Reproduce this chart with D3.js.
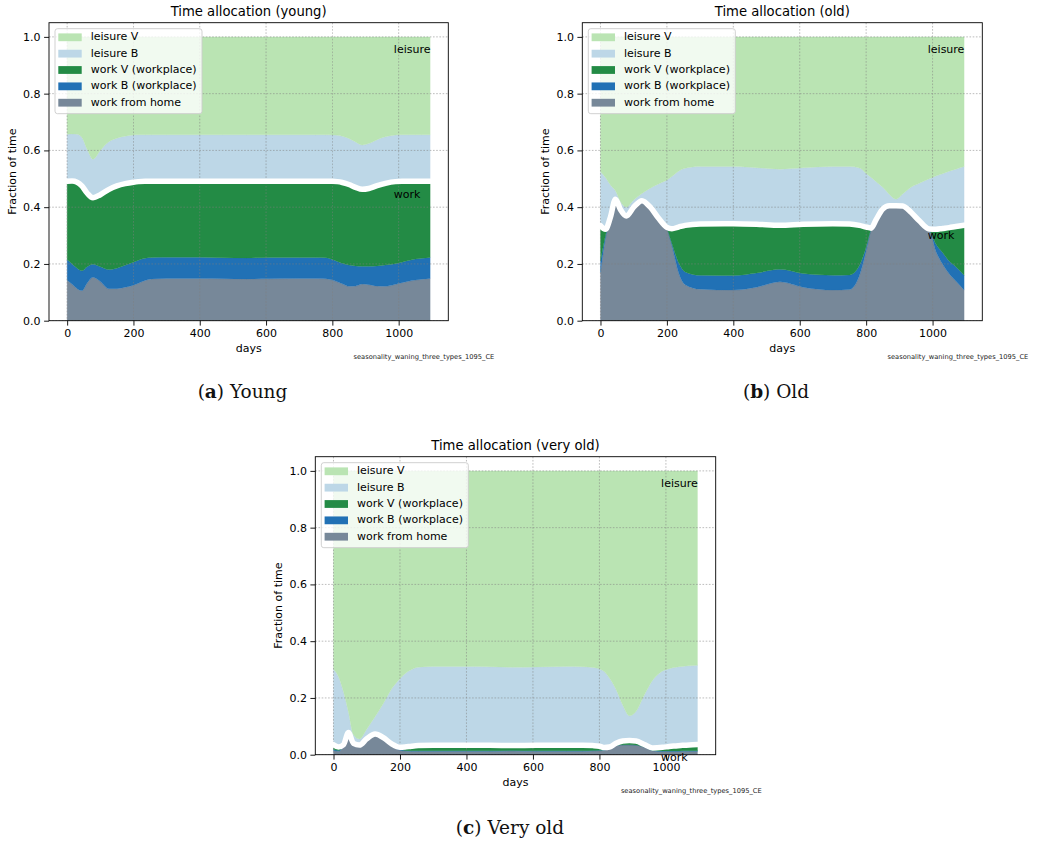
<!DOCTYPE html>
<html>
<head>
<meta charset="utf-8">
<script src="https://cdn.jsdelivr.net/npm/d3@7"></script>
<style>
  html, body { margin: 0; padding: 0; background: #ffffff; }
  svg { display: block; }
  text { font-family: "DejaVu Sans", sans-serif; }
  text.caption { font-family: "DejaVu Serif", serif; }
</style>
</head>
<body>
<svg id="chart" width="1038" height="843"></svg>
<script>
// ---------------- DATA ----------------
const days = [0, 15, 30, 45, 60, 78, 100, 125, 150, 175, 200, 215, 235, 255, 300, 400, 470, 540, 610, 700, 750, 780, 800, 815, 830, 850, 870, 890, 910, 935, 960, 990, 1010, 1030, 1050, 1070, 1095];

const seriesNames = ["work from home", "work B (workplace)", "work V (workplace)", "leisure B", "leisure V"];
const xTicks = [0, 200, 400, 600, 800, 1000];
const yTicks = [0.0, 0.2, 0.4, 0.6, 0.8, 1.0];
const titles = ["Time allocation (young)", "Time allocation (old)", "Time allocation (very old)"];
const captionLetters = ["a", "b", "c"];
const captionNames = ["Young", "Old", "Very old"];
const fileTag = "seasonality_waning_three_types_1095_CE";
const areaLabels = ["leisure", "work"];
const workLabelValues = [0.443, 0.297, -0.013];

// young
const youngWFH   = [.143,.128,.113,.106,.132,.153,.138,.113,.113,.118,.125,.132,.142,.147,.149,.149,.148,.147,.148,.149,.149,.148,.143,.137,.130,.121,.122,.129,.127,.122,.121,.128,.134,.139,.143,.146,.149];
const youngWorkB = [.073,.072,.072,.070,.058,.046,.052,.067,.072,.077,.081,.081,.078,.076,.075,.075,.074,.074,.075,.074,.074,.074,.073,.072,.072,.075,.071,.063,.065,.071,.075,.073,.072,.073,.074,.074,.074];
const youngWorkV = [.275,.292,.303,.298,.260,.234,.254,.282,.290,.288,.282,.277,.271,.268,.267,.267,.269,.270,.268,.268,.268,.269,.275,.281,.285,.284,.277,.271,.274,.283,.288,.289,.285,.279,.274,.271,.268];
const youngLeisB = [.166,.166,.169,.171,.155,.136,.156,.168,.168,.167,.166,.165,.164,.164,.164,.164,.164,.164,.164,.164,.164,.164,.163,.163,.163,.162,.160,.156,.158,.162,.164,.164,.164,.164,.164,.164,.164];
const youngLeisV = [.343,.342,.343,.355,.395,.431,.400,.370,.357,.350,.346,.345,.345,.345,.345,.345,.345,.345,.345,.345,.345,.345,.346,.347,.350,.358,.370,.381,.376,.362,.352,.346,.345,.345,.345,.345,.345];

// old
const oldWFH   = [.170,.290,.365,.428,.392,.369,.400,.423,.400,.361,.326,.265,.170,.127,.111,.108,.118,.137,.118,.108,.110,.160,.245,.324,.356,.394,.405,.405,.404,.382,.352,.323,.245,.200,.165,.140,.108];
const oldWorkB = [.040,.010,0,0,0,0,0,0,0,0,.001,.007,.035,.045,.049,.051,.050,.044,.048,.052,.051,.035,.015,0,0,0,0,0,0,0,0,0,.025,.040,.045,.050,.052];
const oldWorkV = [.125,.022,0,0,0,0,0,0,0,0,.002,.052,.125,.164,.181,.183,.172,.155,.174,.182,.180,.141,.070,.002,0,0,0,0,0,0,0,0,.052,.085,.118,.142,.176];
const oldLeisB = [.190,.183,.113,.030,.028,.031,.025,.025,.067,.121,.167,.184,.197,.201,.202,.201,.199,.198,.199,.201,.202,.202,.189,.179,.134,.076,.040,.023,.042,.088,.132,.177,.188,.193,.199,.202,.207];
const oldLeisV = [.475,.495,.522,.542,.580,.600,.575,.552,.533,.518,.504,.492,.473,.463,.457,.457,.461,.466,.461,.457,.457,.462,.481,.495,.510,.530,.555,.572,.554,.530,.516,.500,.490,.482,.473,.466,.457];

// very old
const veryOldWFH   = [.015,.012,.030,.068,.035,.030,.050,.066,.052,.030,.016,.013,.012,.012,.012,.012,.012,.013,.012,.012,.012,.013,.014,.016,.022,.032,.035,.035,.034,.027,.014,.011,.011,.011,.012,.012,.012];
const veryOldWorkB = [.003,.003,0,0,0,0,0,0,0,.001,.002,.002,.002,.002,.002,.002,.002,.002,.002,.002,.002,.002,.002,.001,0,0,0,0,0,0,.001,.002,.002,.002,.002,.002,.002];
const veryOldWorkV = [.017,.012,.005,.010,.005,.004,.006,.007,.008,.007,.008,.012,.016,.018,.019,.019,.019,.017,.019,.019,.019,.017,.014,.008,.005,.008,.013,.015,.014,.009,.009,.013,.016,.018,.019,.020,.022];
const veryOldLeisB = [.266,.248,.187,.072,.030,.021,.034,.061,.120,.194,.242,.258,.270,.276,.278,.278,.277,.276,.276,.278,.277,.275,.272,.267,.243,.190,.127,.087,.104,.174,.238,.269,.274,.277,.278,.279,.279];
const veryOldLeisV = [.699,.725,.778,.850,.930,.945,.910,.866,.820,.768,.732,.715,.700,.692,.689,.689,.690,.692,.691,.689,.690,.693,.698,.708,.730,.770,.825,.863,.848,.790,.738,.705,.697,.692,.689,.687,.685];

// ---------------- STYLE / LAYOUT ----------------
const colors = {
  "work from home": "#778899",
  "work B (workplace)": "#2171b5",
  "work V (workplace)": "#238b45",
  "leisure B": "#bdd7e7",
  "leisure V": "#bae4b3"
};

const panelData = [
  [youngWFH, youngWorkB, youngWorkV, youngLeisB, youngLeisV],
  [oldWFH, oldWorkB, oldWorkV, oldLeisB, oldLeisV],
  [veryOldWFH, veryOldWorkB, veryOldWorkV, veryOldLeisB, veryOldLeisV]
];
const panelBoxes = [
  { left: 49, top: 22.7, width: 399.3, height: 298, capX: 242.5, capY: 398 },
  { left: 582.3, top: 22.7, width: 400, height: 298, capX: 776, capY: 398 },
  { left: 315.3, top: 456.7, width: 400.4, height: 298, capX: 510, capY: 834 }
];

const svg = d3.select("#chart");
const FS = 11;

panelBoxes.forEach((box, pi) => {
  const rows = days.map((d, i) => {
    const r = { day: d };
    seriesNames.forEach((s, k) => { r[s] = panelData[pi][k][i]; });
    return r;
  });
  const stacked = d3.stack().keys(seriesNames)(rows);

  const x = d3.scaleLinear().domain([-54.75, 1149.75]).range([0, box.width]);
  const y = d3.scaleLinear().domain([0, 1.05]).range([box.height, 0]);

  const g = svg.append("g").attr("transform", `translate(${box.left},${box.top})`);
  const clipId = "clip" + pi;
  g.append("clipPath").attr("id", clipId).append("rect")
    .attr("width", box.width).attr("height", box.height);
  const plot = g.append("g").attr("clip-path", `url(#${clipId})`);

  const area = d3.area()
    .x(d => x(d.data.day))
    .y0(d => y(d[0]))
    .y1(d => y(d[1]))
    .curve(d3.curveMonotoneX);

  plot.selectAll("path.layer").data(stacked).enter().append("path")
    .attr("class", "layer")
    .attr("d", area)
    .attr("fill", d => colors[d.key])
    .attr("stroke", d => colors[d.key])
    .attr("stroke-width", 0.3);

  // grid
  const grid = plot.append("g");
  xTicks.forEach(t => {
    grid.append("line").attr("x1", x(t)).attr("x2", x(t)).attr("y1", 0).attr("y2", box.height)
      .attr("stroke", "#808080").attr("stroke-width", 0.7).attr("stroke-dasharray", "1.6,1.6").attr("opacity", 0.75);
  });
  yTicks.forEach(t => {
    grid.append("line").attr("x1", 0).attr("x2", box.width).attr("y1", y(t)).attr("y2", y(t))
      .attr("stroke", "#808080").attr("stroke-width", 0.7).attr("stroke-dasharray", "1.6,1.6").attr("opacity", 0.75);
  });

  // white separator at work total
  const workTop = stacked[2];
  const line = d3.line()
    .x(d => x(d.data.day))
    .y(d => y(d[1]))
    .curve(d3.curveMonotoneX);
  plot.append("path").datum(workTop).attr("d", line)
    .attr("fill", "none").attr("stroke", "#ffffff").attr("stroke-width", 5.5)
    .attr("stroke-linecap", "round").attr("stroke-linejoin", "round");

  // area labels
  plot.append("text").attr("x", x(985.5)).attr("y", y(0.955))
    .attr("dominant-baseline", "middle").attr("font-size", FS).attr("fill", "#000")
    .text(areaLabels[0]);
  g.append("text").attr("x", x(985.5)).attr("y", y(workLabelValues[pi]))
    .attr("dominant-baseline", "middle").attr("font-size", FS).attr("fill", "#000")
    .text(areaLabels[1]);

  // axes
  const xAxis = d3.axisBottom(x).tickValues(xTicks).tickSize(4.9).tickPadding(3.5).tickFormat(d3.format("d"));
  const yAxis = d3.axisLeft(y).tickValues(yTicks).tickSize(4.9).tickPadding(3.5).tickFormat(d3.format(".1f"));
  const gx = g.append("g").attr("transform", `translate(0,${box.height})`).call(xAxis);
  const gy = g.append("g").call(yAxis);
  [gx, gy].forEach(a => {
    a.select(".domain").remove();
    a.selectAll(".tick line").attr("stroke", "#000").attr("stroke-width", 0.9);
    a.selectAll(".tick text").attr("font-size", FS).attr("fill", "#000");
  });

  // spines
  g.append("rect").attr("width", box.width).attr("height", box.height)
    .attr("fill", "none").attr("stroke", "#000").attr("stroke-width", 0.9);

  // labels
  g.append("text").attr("x", box.width / 2).attr("y", box.height + 31)
    .attr("text-anchor", "middle").attr("font-size", FS).text("days");
  g.append("text").attr("transform", `translate(${-36.3},${box.height / 2}) rotate(-90)`)
    .attr("text-anchor", "middle").attr("dominant-baseline", "middle").attr("font-size", FS).text("Fraction of time");
  g.append("text").attr("x", box.width / 2).attr("y", -7)
    .attr("text-anchor", "middle").attr("font-size", 13.2).text(titles[pi]);
  g.append("text").attr("x", box.width + 46).attr("y", box.height + 36)
    .attr("text-anchor", "end").attr("dominant-baseline", "middle").attr("font-size", 6.7)
    .attr("fill", "#222").text(fileTag);

  // legend
  const lg = g.append("g").attr("transform", "translate(6,6)");
  lg.append("rect").attr("width", 147).attr("height", 85).attr("rx", 2.5)
    .attr("fill", "#ffffff").attr("fill-opacity", 0.8).attr("stroke", "#cccccc").attr("stroke-width", 0.9);
  const legendOrder = seriesNames.slice().reverse();
  legendOrder.forEach((s, i) => {
    const cy = 8.6 + i * 16.35;
    lg.append("rect").attr("x", 3.3).attr("y", cy - 3.9).attr("width", 23.4).attr("height", 7.8)
      .attr("fill", colors[s]);
    lg.append("text").attr("x", 35.7).attr("y", cy).attr("dominant-baseline", "middle")
      .attr("font-size", FS).text(s);
  });

  // caption
  const cap = svg.append("text").attr("class", "caption").attr("x", box.capX).attr("y", box.capY)
    .attr("text-anchor", "middle").attr("font-size", 18.5).attr("fill", "#111");
  cap.append("tspan").text("(");
  cap.append("tspan").attr("font-weight", "bold").text(captionLetters[pi]);
  cap.append("tspan").text(") " + captionNames[pi]);
});
</script>
</body>
</html>
